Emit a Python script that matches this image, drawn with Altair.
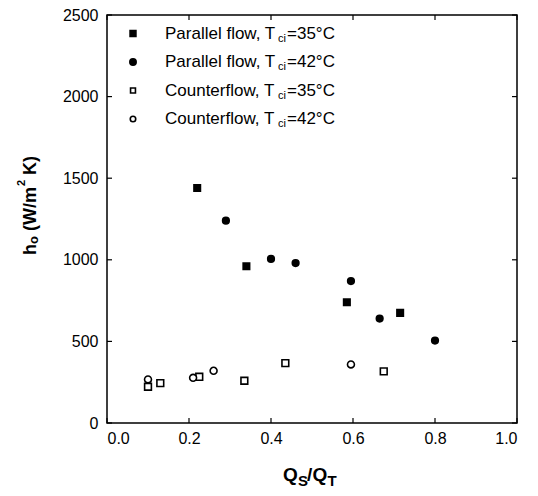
import altair as alt
import pandas as pd

# ---------------- data ----------------
series_names = ["Parallel flow, Tci=35°C", "Parallel flow, Tci=42°C",
                "Counterflow, Tci=35°C", "Counterflow, Tci=42°C"]

pf35_x = [0.22, 0.34, 0.585, 0.715]
pf35_y = [1440, 960, 740, 675]

pf42_x = [0.29, 0.40, 0.46, 0.595, 0.665, 0.80]
pf42_y = [1240, 1005, 980, 870, 640, 505]

cf35_x = [0.10, 0.13, 0.225, 0.335, 0.435, 0.675]
cf35_y = [222, 244, 283, 259, 367, 316]

cf42_x = [0.10, 0.21, 0.26, 0.595]
cf42_y = [267, 277, 320, 359]

x_ticks = [0.0, 0.2, 0.4, 0.6, 0.8, 1.0]
y_ticks = [0, 500, 1000, 1500, 2000, 2500]

legend_main = ["Parallel flow, T", "Parallel flow, T", "Counterflow, T", "Counterflow, T"]
legend_sub = ["ci", "ci", "ci", "ci"]
legend_rest = ["=35°C", "=42°C", "=35°C", "=42°C"]

# ---------------- styling ----------------
FONT = "Arial, Liberation Sans, sans-serif"
W, H = 410, 408
shapes = ["square", "circle", "square", "circle"]
fills = ["black", "black", "white", "white"]
sizes = [42, 48, 32, 38]

rows = []
for name, xs, ys in zip(series_names, [pf35_x, pf42_x, cf35_x, cf42_x],
                        [pf35_y, pf42_y, cf35_y, cf42_y]):
    for a, b in zip(xs, ys):
        rows.append({"series": name, "x": a, "y": b})
df = pd.DataFrame(rows)

x_enc = alt.X("x:Q", scale=alt.Scale(domain=[0, 1], nice=False, zero=False),
              axis=alt.Axis(values=x_ticks, format=".1f", title=None, labelPadding=7))
y_enc = alt.Y("y:Q", scale=alt.Scale(domain=[0, 2500], nice=False),
              axis=alt.Axis(values=y_ticks, format="d", title=None, labelPadding=9))

points = alt.Chart(df).mark_point(filled=True, stroke="black", strokeWidth=1.6, opacity=1).encode(
    x=x_enc,
    y=y_enc,
    shape=alt.Shape("series:N", scale=alt.Scale(domain=series_names, range=shapes), legend=None),
    fill=alt.Fill("series:N", scale=alt.Scale(domain=series_names, range=fills), legend=None),
    size=alt.Size("series:N", scale=alt.Scale(domain=series_names, range=sizes), legend=None),
)

# inside ticks on all four sides
xt = pd.DataFrame({"x": x_ticks})
yt = pd.DataFrame({"y": y_ticks})
tick_layers = [
    alt.Chart(xt).mark_rule(color="black", strokeWidth=1.2).encode(x=x_enc, y=alt.value(H), y2=alt.value(H - 5)),
    alt.Chart(xt).mark_rule(color="black", strokeWidth=1.2).encode(x=x_enc, y=alt.value(0), y2=alt.value(5)),
    alt.Chart(yt).mark_rule(color="black", strokeWidth=1.2).encode(y=y_enc, x=alt.value(0), x2=alt.value(5)),
    alt.Chart(yt).mark_rule(color="black", strokeWidth=1.2).encode(y=y_enc, x=alt.value(W), x2=alt.value(W - 5)),
]


def txt(s, x, y, size, bold=False, dx=0, dy=0, angle=0):
    props = dict(font=FONT, fontSize=size, align="left", baseline="alphabetic",
                 color="black", dx=dx, dy=dy, fontWeight="bold" if bold else "normal")
    if angle:
        props["angle"] = angle
    return alt.Chart(pd.DataFrame({"t": [s]})).mark_text(**props).encode(
        x=alt.value(x), y=alt.value(y), text="t:N")


# legend (inside the plot, top-left)
legend_layers = []
for i in range(4):
    my = 18.5 + i * 28.5
    by = 23.5 + i * 28.5
    legend_layers.append(
        alt.Chart(pd.DataFrame({"s": [series_names[i]]})).mark_point(
            filled=True, stroke="black", strokeWidth=1.6, opacity=1).encode(
            x=alt.value(26), y=alt.value(my), shape=alt.value(shapes[i]),
            fill=alt.value(fills[i]), size=alt.value(sizes[i] - 8)))
    legend_layers.append(txt(legend_main[i], 58, by, 17))
    legend_layers.append(txt(legend_sub[i], 171, by, 11, dy=3))
    legend_layers.append(txt(legend_rest[i], 180, by, 17))

# axis titles with sub/superscripts
title_layers = [
    txt("Q", 176, 466, 19, bold=True),
    txt("S", 191, 466, 15, bold=True, dy=5),
    txt("/", 200, 466, 19, bold=True),
    txt("Q", 205.5, 466, 19, bold=True),
    txt("T", 220.5, 466, 15, bold=True, dy=5),
    txt("h", -71, 240, 18, bold=True, angle=270),
    txt("o", -71, 240, 13, bold=True, dx=11, dy=2, angle=270),
    txt("(W/m", -71, 240, 18, bold=True, dx=24, angle=270),
    txt("2", -71, 240, 11, bold=True, dx=69, dy=-11, angle=270),
    txt("K)", -71, 240, 18, bold=True, dx=80, angle=270),
]

chart = alt.layer(points, *tick_layers, *legend_layers, *title_layers).properties(
    width=W, height=H,
    padding={"left": 99, "top": 7, "right": 12, "bottom": 65},
    autosize=alt.AutoSizeParams(type="none"),
).configure_view(
    stroke="black", strokeWidth=1.5
).configure_axis(
    domain=False, ticks=False, grid=False,
    labelFont=FONT, labelFontSize=16, labelColor="black",
)

chart.save("out.html", embed_options={"renderer": "svg", "actions": False})
